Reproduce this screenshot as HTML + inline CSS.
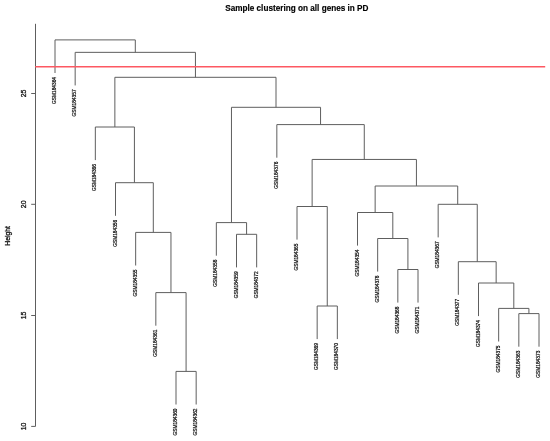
<!DOCTYPE html>
<html><head><meta charset="utf-8"><style>
html,body{margin:0;padding:0;background:#fff;width:550px;height:441px;overflow:hidden}
svg{display:block;will-change:transform;}
text{font-family:"Liberation Sans", sans-serif}
</style></head><body>
<svg width="550" height="441" viewBox="0 0 550 441" font-family='"Liberation Sans", sans-serif'><path d="M176.00 404.50V371.40H196.17V404.50 M155.84 325.70V292.60H186.09V371.40 M135.67 265.50V232.40H170.96V292.60 M115.50 215.80V182.70H153.31V232.40 M95.33 160.10V127.00H134.41V182.70 M236.50 267.40V234.30H256.67V267.40 M216.34 255.70V222.60H246.59V234.30 M317.17 339.10V306.00H337.34V339.10 M297.00 239.60V206.50H327.25V306.00 M397.84 302.60V269.50H418.01V302.60 M377.67 271.60V238.50H407.92V269.50 M357.50 245.60V212.50H392.80V238.50 M518.84 346.70V313.60H539.01V346.70 M498.67 341.50V308.40H528.92V313.60 M478.51 316.10V283.00H513.80V308.40 M458.34 294.80V261.70H496.15V283.00 M438.17 237.40V204.30H477.25V261.70 M375.15 212.50V186.00H457.71V204.30 M312.13 206.50V159.45H416.43V186.00 M276.84 157.70V124.60H364.28V159.45 M231.46 222.60V107.30H320.56V124.60 M114.87 127.00V77.30H276.01V107.30 M75.17 85.45V52.35H195.44V77.30 M55.00 73.00V39.90H135.30V52.35" fill="none" stroke="#5e5e5e" stroke-width="1.0" stroke-linecap="butt" stroke-linejoin="miter"/>
<g font-size="4.8" fill="#111" stroke="#111" stroke-width="0.22"><text transform="translate(56.10,77.00) rotate(-90)" text-anchor="end">GSM184364</text><text transform="translate(76.27,89.45) rotate(-90)" text-anchor="end">GSM184357</text><text transform="translate(96.43,164.10) rotate(-90)" text-anchor="end">GSM184366</text><text transform="translate(116.60,219.80) rotate(-90)" text-anchor="end">GSM184356</text><text transform="translate(136.77,269.50) rotate(-90)" text-anchor="end">GSM184355</text><text transform="translate(156.94,329.70) rotate(-90)" text-anchor="end">GSM184361</text><text transform="translate(177.10,408.50) rotate(-90)" text-anchor="end">GSM184360</text><text transform="translate(197.27,408.50) rotate(-90)" text-anchor="end">GSM184362</text><text transform="translate(217.44,259.70) rotate(-90)" text-anchor="end">GSM184358</text><text transform="translate(237.60,271.40) rotate(-90)" text-anchor="end">GSM184359</text><text transform="translate(257.77,271.40) rotate(-90)" text-anchor="end">GSM184372</text><text transform="translate(277.94,161.70) rotate(-90)" text-anchor="end">GSM184376</text><text transform="translate(298.10,243.60) rotate(-90)" text-anchor="end">GSM184365</text><text transform="translate(318.27,343.10) rotate(-90)" text-anchor="end">GSM184369</text><text transform="translate(338.44,343.10) rotate(-90)" text-anchor="end">GSM184370</text><text transform="translate(358.61,249.60) rotate(-90)" text-anchor="end">GSM184354</text><text transform="translate(378.77,275.60) rotate(-90)" text-anchor="end">GSM184378</text><text transform="translate(398.94,306.60) rotate(-90)" text-anchor="end">GSM184368</text><text transform="translate(419.11,306.60) rotate(-90)" text-anchor="end">GSM184371</text><text transform="translate(439.27,241.40) rotate(-90)" text-anchor="end">GSM184367</text><text transform="translate(459.44,298.80) rotate(-90)" text-anchor="end">GSM184377</text><text transform="translate(479.61,320.10) rotate(-90)" text-anchor="end">GSM184374</text><text transform="translate(499.77,345.50) rotate(-90)" text-anchor="end">GSM184375</text><text transform="translate(519.94,350.70) rotate(-90)" text-anchor="end">GSM184363</text><text transform="translate(540.11,350.70) rotate(-90)" text-anchor="end">GSM184373</text></g>
<path d="M35.5 23.8V426.4M31.2 93.5H35.5M31.2 204.3H35.5M31.2 315.5H35.5M31.2 426.4H35.5" fill="none" stroke="#5e5e5e" stroke-width="1.0"/>
<g font-size="6.9" fill="#111" stroke="#111" stroke-width="0.3"><text transform="translate(26.0,93.5) rotate(-90)" text-anchor="middle">25</text><text transform="translate(26.0,204.3) rotate(-90)" text-anchor="middle">20</text><text transform="translate(26.0,315.5) rotate(-90)" text-anchor="middle">15</text><text transform="translate(26.0,426.4) rotate(-90)" text-anchor="middle">10</text></g>
<text transform="translate(9.6,235.9) rotate(-90)" text-anchor="middle" font-size="6.85" fill="#111" stroke="#111" stroke-width="0.3">Height</text>
<text x="296.85" y="11.3" text-anchor="middle" font-size="8.2" font-weight="bold" fill="#000" stroke="#000" stroke-width="0.15">Sample clustering on all genes in PD</text>
<path d="M35.2 66.7H545.2" stroke="#fd5862" stroke-width="1.4"/></svg>
</body></html>
